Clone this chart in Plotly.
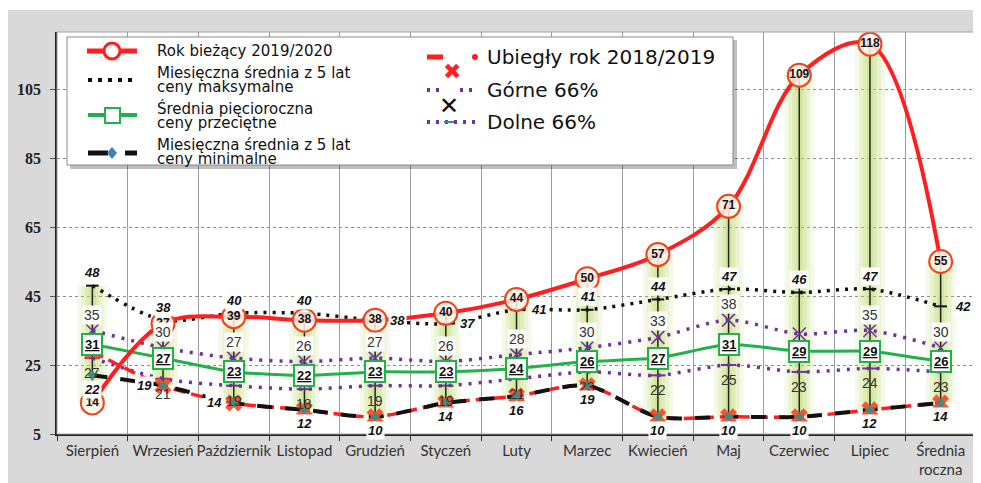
import plotly.graph_objects as go

# ---------------- data ----------------
categories = ["Sierpień", "Wrzesień", "Październik", "Listopad", "Grudzień", "Styczeń",
              "Luty", "Marzec", "Kwiecień", "Maj", "Czerwiec", "Lipiec", "Średnia<br>roczna"]
current_2019_2020 = [14, 37, 39, 38, 38, 40, 44, 50, 57, 71, 109, 118, 55]
max_5y = [48, 38, 40, 40, 38, 37, 41, 41, 44, 47, 46, 47, 42]
avg_5y = [31, 27, 23, 22, 23, 23, 24, 26, 27, 31, 29, 29, 26]
min_5y = [22, 19, 14, 12, 10, 14, 16, 19, 10, 10, 10, 12, 14]
prev_2018_2019 = [29, 19, 14, 12, 10, 14, 16, 19, 10, 10, 10, 12, 14]
upper_66 = [35, 30, 27, 26, 27, 26, 28, 30, 33, 38, 34, 35, 30]
lower_66 = [27, 21, 19, 18, 19, 19, 21, 23, 22, 25, 23, 24, 23]
y_ticks = [5, 25, 45, 65, 85, 105]

# label placement (style, not data)
max_label_side = ["top", "top", "top", "top", "right", "right", "right", "top",
                  "top", "top", "top", "top", "right"]
min_label_side = ["bottom", "left", "left", "bottom", "bottom", "bottom", "bottom",
                  "bottom", "bottom", "bottom", "bottom", "bottom", "bottom"]
upper_label_hidden = {10}

# page body has an 8px margin; the figure starts at (8, 8) of the window
OFF = 8
W, H = 981 - OFF, 483 - OFF
PL, PR, PT, PB = 57, 976, 32, 434          # plot area in window pixels
L, R, T, B = PL - OFF, 981 - PR, PT - OFF, 483 - PB
PW, PH = PR - PL, PB - PT


def px(x):
    return (x - PL) / PW


def py(y):
    return (PB - y) / PH


FONT = "Liberation Sans, Arial, sans-serif"
RED = "#ff1f1f"
PURPLE = "#7030a0"
GREEN = "#22b04c"

fig = go.Figure()

# high-low extent computed from the series
all_series = [current_2019_2020, max_5y, avg_5y, min_5y, prev_2018_2019, upper_66, lower_66]
hl_x, hl_y = [], []
for i, c in enumerate(categories):
    vals = [s[i] for s in all_series]
    hl_x += [c, c, None]
    hl_y += [min(vals), max(vals), None]

# glow
for w, a in [(30, 0.16), (22, 0.2), (14, 0.26), (7, 0.3)]:
    fig.add_trace(go.Scatter(x=hl_x, y=hl_y, mode="lines",
                             line=dict(color=f"rgba(190,220,110,{a})", width=w),
                             hoverinfo="skip", showlegend=False))
# high-low lines
fig.add_trace(go.Scatter(x=hl_x, y=hl_y, mode="lines",
                         line=dict(color="#222", width=1.5),
                         hoverinfo="skip", showlegend=False))

# Dolne 66%
fig.add_trace(go.Scatter(x=categories, y=lower_66, mode="lines+markers", name="Dolne 66%",
                         line=dict(color=PURPLE, width=3.5, dash="3px,7px", shape="spline", smoothing=0.8),
                         marker=dict(symbol="line-ew-open", size=11, line=dict(color="#3d6b35", width=2))))
# Górne 66%
fig.add_trace(go.Scatter(x=categories, y=upper_66, mode="lines+markers", name="Górne 66%",
                         line=dict(color=PURPLE, width=3.5, dash="3px,7px", shape="spline", smoothing=0.8),
                         marker=dict(symbol="x-thin-open", size=13, line=dict(color="#3b5e2b", width=1.5))))
# max
fig.add_trace(go.Scatter(x=categories, y=max_5y, mode="lines+markers",
                         name="Miesięczna średnia z 5 lat ceny maksymalne",
                         line=dict(color="#111", width=3.5, dash="3px,6px", shape="spline", smoothing=0.8),
                         marker=dict(symbol="line-ew-open", size=9, line=dict(color="#3d6b35", width=2))))
# average
fig.add_trace(go.Scatter(x=categories, y=avg_5y, mode="lines",
                         name="Średnia pięcioroczna ceny przeciętne",
                         line=dict(color=GREEN, width=3, shape="spline", smoothing=0.5)))
# previous year (red dashed) under min (black dashed)
fig.add_trace(go.Scatter(x=categories, y=prev_2018_2019, mode="lines",
                         name="Ubiegły rok 2018/2019",
                         line=dict(color=RED, width=3.5, dash="12px,6px", shape="spline", smoothing=0.8)))
fig.add_trace(go.Scatter(x=categories, y=min_5y, mode="lines",
                         name="Miesięczna średnia z 5 lat ceny minimalne",
                         line=dict(color="#111", width=4, dash="15px,13px", shape="spline", smoothing=0.8)))
fig.add_trace(go.Scatter(x=categories, y=prev_2018_2019, mode="markers", showlegend=False,
                         marker=dict(symbol="x", size=15, color="rgba(245,70,30,0.9)")))
fig.add_trace(go.Scatter(x=categories, y=min_5y, mode="markers", showlegend=False,
                         marker=dict(symbol="diamond", size=7, color="#3e8c8a")))
# current year
fig.add_trace(go.Scatter(x=categories, y=current_2019_2020, mode="lines", showlegend=False,
                         line=dict(color=RED, width=4, shape="spline", smoothing=1.0)))
fig.add_trace(go.Scatter(x=categories, y=current_2019_2020, mode="markers+text",
                         name="Rok bieżący 2019/2020",
                         marker=dict(symbol="circle", size=23, color="rgba(255,245,235,0.85)",
                                     line=dict(color="#f2401c", width=2)),
                         text=[f"<b>{v}</b>" for v in current_2019_2020],
                         textposition="middle center",
                         textfont=dict(family=FONT, size=12, color="#111")))

ann = []
for i, c in enumerate(categories):
    # max labels
    side = max_label_side[i]
    a = dict(x=c, y=max_5y[i], text=f"<b><i>{max_5y[i]}</i></b>", showarrow=False,
             font=dict(family=FONT, size=13, color="#111"), bgcolor="white", borderpad=1)
    if side == "top":
        a["yshift"] = 13
    else:
        a["xshift"] = 22
    ann.append(a)
    # upper 66
    if i not in upper_label_hidden:
        ann.append(dict(x=c, y=upper_66[i], text=str(upper_66[i]), showarrow=False, yshift=16,
                        font=dict(family=FONT, size=14, color="#333"), bgcolor="white", borderpad=1))
    # lower 66
    ann.append(dict(x=c, y=lower_66[i], text=str(lower_66[i]), showarrow=False, yshift=-15,
                    font=dict(family=FONT, size=14, color="#333")))
    # average box
    ann.append(dict(x=c, y=avg_5y[i], text=f"<b><u>{avg_5y[i]}</u></b>", showarrow=False,
                    font=dict(family=FONT, size=13, color="#111"), bgcolor="white",
                    bordercolor=GREEN, borderwidth=2, borderpad=2))
    # min labels
    side = min_label_side[i]
    a = dict(x=c, y=min_5y[i], text=f"<b><i>{min_5y[i]}</i></b>", showarrow=False,
             font=dict(family=FONT, size=13, color="#111"), bgcolor="white", borderpad=1)
    if side == "bottom":
        a["yshift"] = -14
    else:
        a["xshift"] = -19
    ann.append(a)

# ---------------- manual legend ----------------
LF = "DejaVu Sans, sans-serif"
shapes = []
# thin white strip at the very top of the figure
shapes.append(dict(type="rect", xref="paper", yref="paper", x0=px(0), x1=px(990), y0=py(10), y1=py(0),
                   fillcolor="white", line=dict(width=0), layer="below"))
# plot frame
shapes.append(dict(type="rect", xref="paper", yref="paper", x0=0, x1=1, y0=0, y1=1,
                   line=dict(color="#a0a0a0", width=1)))
# legend box with shadow
shapes.append(dict(type="rect", xref="paper", yref="paper", x0=px(70), x1=px(737), y0=py(169), y1=py(40),
                   fillcolor="rgba(0,0,0,0.25)", line=dict(width=0)))
shapes.append(dict(type="rect", xref="paper", yref="paper", x0=px(67), x1=px(733), y0=py(165), y1=py(37),
                   fillcolor="white", line=dict(color="#8a8a8a", width=1)))


def hline(x0, x1, y, color, width, dash="solid"):
    shapes.append(dict(type="line", xref="paper", yref="paper", x0=px(x0), x1=px(x1), y0=py(y), y1=py(y),
                       line=dict(color=color, width=width, dash=dash)))


# col 1
hline(87, 137, 51, RED, 5)
shapes.append(dict(type="circle", xref="paper", yref="paper", x0=px(104), x1=px(120), y0=py(59), y1=py(43),
                   fillcolor="white", line=dict(color=RED, width=3)))
hline(88, 137, 80, "#111", 4, "4px,6px")
hline(88, 137, 115, GREEN, 4)
shapes.append(dict(type="rect", xref="paper", yref="paper", x0=px(105), x1=px(120), y0=py(123), y1=py(108),
                   fillcolor="white", line=dict(color=GREEN, width=2)))
hline(88, 108, 153, "#111", 5)
hline(125, 137, 153, "#111", 5)
shapes.append(dict(type="path", xref="paper", yref="paper",
                   path=f"M {px(112)},{py(147)} L {px(117)},{py(153)} L {px(112)},{py(159)} L {px(107)},{py(153)} Z",
                   fillcolor="#3f7fc0", line=dict(width=0)))
# col 2
hline(427, 443, 57, RED, 5)
shapes.append(dict(type="circle", xref="paper", yref="paper", x0=px(472), x1=px(478), y0=py(60), y1=py(54),
                   fillcolor=RED, line=dict(width=0)))
hline(427, 440, 90, PURPLE, 4, "3px,6px")
hline(460, 477, 90, PURPLE, 4, "3px,6px")
hline(427, 477, 122, PURPLE, 4, "3px,6px")
hline(444, 454, 122, "#2f8f9a", 2)

ann.append(dict(xref="paper", yref="paper", x=px(452), y=py(57), text="✖", showarrow=False,
                font=dict(family=LF, size=22, color=RED)))
ann.append(dict(xref="paper", yref="paper", x=px(449), y=py(90), text="✕", showarrow=False,
                font=dict(family=LF, size=24, color="#111")))

leg1 = [("Rok bieżący 2019/2020", 51), ("Miesięczna średnia z 5 lat", 73), ("ceny maksymalne", 87),
        ("Średnia pięcioroczna", 109), ("ceny przeciętne", 123),
        ("Miesięczna średnia z 5 lat", 145), ("ceny minimalne", 159)]
for t, y in leg1:
    ann.append(dict(xref="paper", yref="paper", x=px(155), y=py(y), xanchor="left", yanchor="middle",
                    text=t, showarrow=False, font=dict(family=LF, size=15, color="#111")))
leg2 = [("Ubiegły rok 2018/2019", 57), ("Górne 66%", 90), ("Dolne 66%", 122)]
for t, y in leg2:
    ann.append(dict(xref="paper", yref="paper", x=px(485), y=py(y), xanchor="left", yanchor="middle",
                    text=t, showarrow=False, font=dict(family=LF, size=20, color="#111")))

fig.update_layout(
    width=W, height=H,
    margin=dict(l=L, r=R, t=T, b=B, pad=0),
    paper_bgcolor="#d9d9d9", plot_bgcolor="white",
    showlegend=False,
    annotations=ann, shapes=shapes,
    xaxis=dict(type="category", categoryorder="array", categoryarray=categories,
               range=[-0.5, len(categories) - 0.5], tickson="boundaries",
               showgrid=True, gridcolor="#9c9c9c", gridwidth=1,
               ticks="outside", ticklen=5, tickcolor="#333", tickangle=0,
               showline=True, linecolor="#222", linewidth=1.5,
               ticklabelstandoff=2,
               tickfont=dict(family="Lato, Open Sans, sans-serif", size=15, color="#333"),
               fixedrange=True, automargin=False),
    yaxis=dict(range=[5, 5 + PH / 3.45], tickmode="array", tickvals=y_ticks,
               showgrid=True, gridcolor="#8c8c8c", griddash="dot", gridwidth=1,
               zeroline=False, ticks="outside", ticklen=5, tickcolor="#555",
               showline=True, linecolor="#222", linewidth=1.5,
               ticklabelstandoff=6,
               tickfont=dict(family="Liberation Serif, Times New Roman, serif", size=16, color="#222",
                             weight="bold"),
               fixedrange=True, automargin=False),
)

fig.write_html("out.html")
